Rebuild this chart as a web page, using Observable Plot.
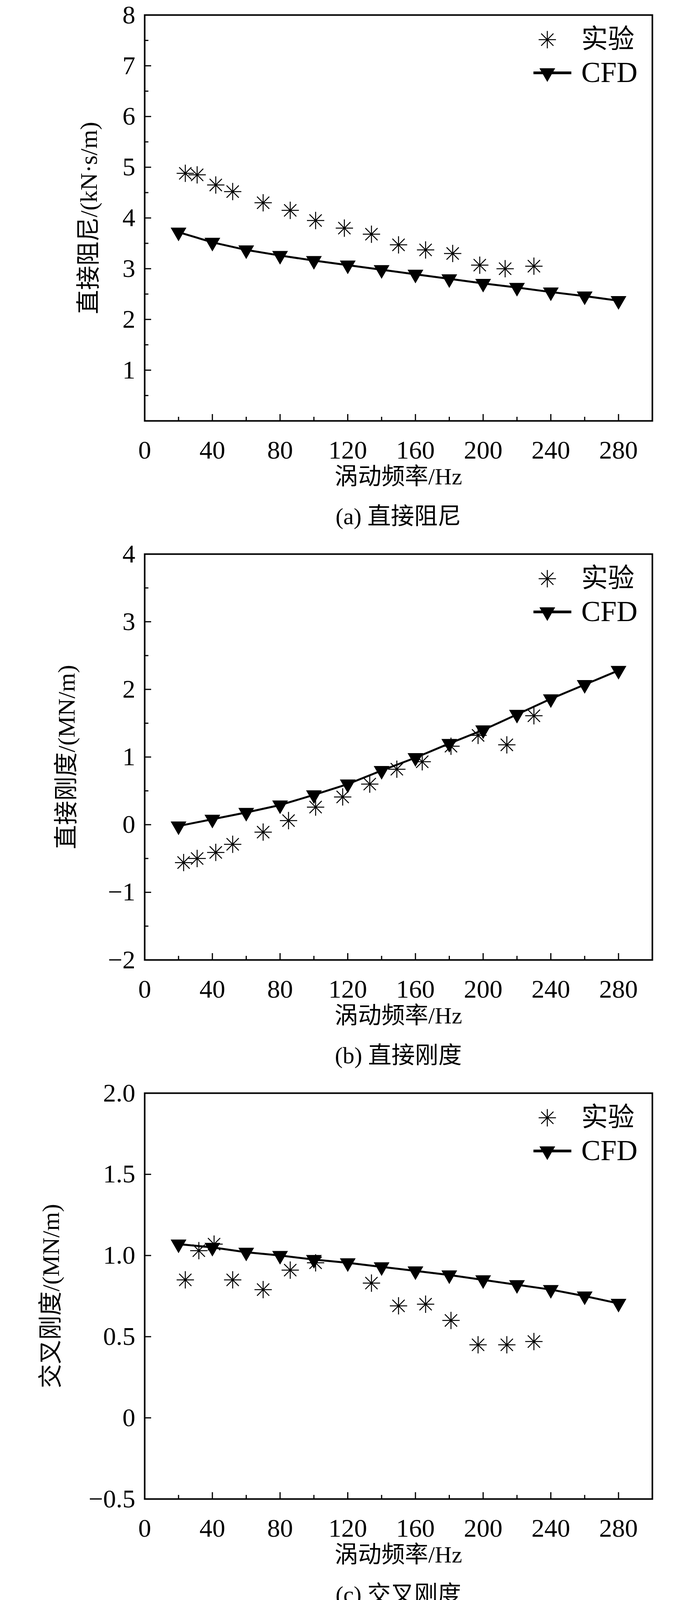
<!DOCTYPE html>
<html><head><meta charset="utf-8">
<script src="https://cdn.jsdelivr.net/npm/d3@7"></script>
<script src="https://cdn.jsdelivr.net/npm/@observablehq/plot@0.6"></script>
<style>
html,body{margin:0;background:#fff;width:1772px;height:5502px;overflow:hidden}
#c{position:relative;width:1772px;height:5502px;font-family:"Liberation Serif","Noto Sans CJK SC",serif}
.t{position:absolute;white-space:nowrap;color:#000;font-family:"Liberation Serif","Noto Sans CJK SC",serif}
</style></head><body><div id="c"></div>
<script>
const cfdX = [20,40,60,80,100,120,140,160,180,200,220,240,260,280];
const aCfd = [3.72,3.52,3.37,3.26,3.16,3.07,2.98,2.89,2.80,2.71,2.63,2.54,2.46,2.37];
const aExpX = [24,31,42,52,70,86,101,118,134,150,166,182,198,213,230];
const aExp = [4.88,4.85,4.65,4.52,4.30,4.15,3.95,3.80,3.68,3.47,3.37,3.30,3.07,3.00,3.05];
const bCfd = [-0.02,0.08,0.18,0.29,0.44,0.60,0.80,0.99,1.20,1.40,1.63,1.86,2.07,2.28];
const bExpX = [23,31,42,52,70,85,101,117,133,149,164,181,197,214,230];
const bExp = [-0.56,-0.50,-0.41,-0.29,-0.11,0.06,0.26,0.41,0.60,0.82,0.93,1.16,1.32,1.18,1.61];
const cCfd = [1.07,1.05,1.02,1.00,0.975,0.955,0.93,0.905,0.88,0.85,0.82,0.79,0.75,0.705];
const cExpX = [24,32,41,52,70,86,101,134,150,166,181,197,214,230];
const cExp = [0.85,1.03,1.07,0.85,0.79,0.91,0.955,0.83,0.69,0.70,0.60,0.45,0.45,0.47];
const dCfd = [-4.88,-0.68,0.65,1.25,1.57,1.81,1.92,1.99,2.02,2.04,2.04,2.02,1.99,1.95];
const dExpX = [24,31,42,52,70,86,101,134,150,166,182,198,214,231];
const dExp = [-1.0,-0.45,0.40,1.60,2.18,2.09,2.16,2.33,2.36,2.35,2.45,2.38,2.35,2.45];
const xTicks = [0,40,80,120,160,200,240,280];

const panels = [
 {cfd:aCfd, ex:aExpX, ey:aExp, dom:[0,8], major:d3.range(1,9,1), minor:d3.range(0.5,8,1), fmt:d=>String(d),
  ylab:"直接阻尼/(kN·s/m)", ylx:227, cap:"(a) 直接阻尼", leg:"top"},
 {cfd:bCfd, ex:bExpX, ey:bExp, dom:[-2,4], major:d3.range(-2,5,1), minor:d3.range(-1.5,4,1), fmt:d=>String(d).replace("-","−"),
  ylab:"直接刚度/(MN/m)", ylx:170, cap:"(b) 直接刚度", leg:"top"},
 {cfd:cCfd, ex:cExpX, ey:cExp, dom:[-0.5,2], major:[-0.5,0,0.5,1,1.5,2], minor:[], fmt:d=>d===0?"0":d.toFixed(1).replace("-","−"),
  ylab:"交叉刚度/(MN/m)", ylx:130, cap:"(c) 交叉刚度", leg:"top"},
 {cfd:dCfd, ex:dExpX, ey:dExp, dom:[-6,4], major:d3.range(-6,5,1), minor:d3.range(-5.5,4,1), fmt:d=>String(d).replace("-","−"),
  ylab:"有效阻尼/(kN·s/m)", ylx:190, cap:"(d) 有效阻尼", leg:"bottom"}
];

const asterisk = {draw(ctx, size){
  const r = Math.sqrt(size)/2;
  for (let k=0;k<4;k++){const a=k*Math.PI/4;ctx.moveTo(-r*Math.cos(a),-r*Math.sin(a));ctx.lineTo(r*Math.cos(a),r*Math.sin(a));}
}};

const W=1772, ML=370, MR=102, MT=38, FH=1039, H=1200, PERIOD=1380;
const c = document.getElementById("c");
const font = '"Liberation Serif","Noto Sans CJK SC",serif';

panels.forEach((p,i)=>{
  const top = i*PERIOD;
  const [y0,y1]=p.dom;
  const py = off => y1 - off/FH*(y1-y0);
  const px = v => (v-ML)/(W-ML-MR)*300;
  const l1 = p.leg==="top" ? 63 : 894, l2 = p.leg==="top" ? 148 : 970;
  const cfd = cfdX.map((x,j)=>({x,y:p.cfd[j]}));
  const exp = p.ex.map((x,j)=>({x,y:p.ey[j]}));
  const xMinor = d3.range(20,300,40);
  const chart = Plot.plot({
    width:W, height:H, marginLeft:ML, marginRight:MR, marginTop:MT, marginBottom:H-MT-FH,
    style:{fontFamily:font, background:"#fff", overflow:"visible"},
    x:{domain:[0,300]}, y:{domain:p.dom},
    marks:[
      Plot.axisX(xTicks,{tickSize:-17, strokeWidth:3, text:null, label:null}),
      Plot.axisX(xMinor,{tickSize:-10, strokeWidth:3, text:null, label:null}),
      Plot.axisX(xTicks,{tickSize:0, tickPadding:50, fontSize:66, label:null, fill:"#000"}),
      Plot.axisY(p.major,{tickSize:-17, strokeWidth:3, text:null, label:null}),
      p.minor.length?Plot.axisY(p.minor,{tickSize:-10, strokeWidth:3, text:null, label:null}):null,
      Plot.axisY(p.major,{tickSize:0, tickPadding:24, fontSize:66, label:null, tickFormat:p.fmt, fill:"#000"}),
      Plot.frame({stroke:"#000", strokeWidth:4}),
      Plot.line(cfd,{x:"x",y:"y",stroke:"#000",strokeWidth:5}),
      Plot.dot(cfd,{x:"x",y:"y",symbol:"triangle",rotate:180,r:15,fill:"#000",stroke:"none"}),
      Plot.dot(exp,{x:"x",y:"y",symbol:asterisk,r:25,stroke:"#000",strokeWidth:2.5,fill:"none"}),
      Plot.dot([0],{x:()=>px(1401),y:()=>py(l1),symbol:asterisk,r:25,stroke:"#000",strokeWidth:2.5,fill:"none"}),
      Plot.text(["实验"],{x:()=>px(1488),y:()=>py(l1),textAnchor:"start",fontSize:68,fill:"#000"}),
      Plot.ruleY([0],{x1:()=>px(1366),x2:()=>px(1463),y:()=>py(l2),stroke:"#000",strokeWidth:7}),
      Plot.dot([0],{x:()=>px(1401),y:()=>py(l2),symbol:"triangle",rotate:180,r:15,fill:"#000"}),
      Plot.text(["CFD"],{x:()=>px(1488),y:()=>py(l2),textAnchor:"start",fontSize:74,fill:"#000"})
    ]
  });
  chart.style.position="absolute"; chart.style.left="0px"; chart.style.top=top+"px";
  c.appendChild(chart);
  const yl=document.createElement("div"); yl.className="t"; yl.textContent=p.ylab;
  yl.style.fontSize="62px"; yl.style.left=p.ylx+"px"; yl.style.top=(top+MT+FH/2)+"px";
  yl.style.transform="translate(-50%,-50%) rotate(-90deg)"; yl.style.lineHeight="1";
  c.appendChild(yl);
  const xl=document.createElement("div"); xl.className="t"; xl.textContent="涡动频率/Hz";
  xl.style.fontSize="60px"; xl.style.left="1020px"; xl.style.top=(top+1220)+"px"; xl.style.lineHeight="1";
  xl.style.transform="translate(-50%,-50%)"; c.appendChild(xl);
  const cp=document.createElement("div"); cp.className="t"; cp.textContent=p.cap;
  cp.style.fontSize="60px"; cp.style.left="1020px"; cp.style.top=(top+1322)+"px"; cp.style.lineHeight="1";
  cp.style.transform="translate(-50%,-50%)"; c.appendChild(cp);
});
</script></body></html>
